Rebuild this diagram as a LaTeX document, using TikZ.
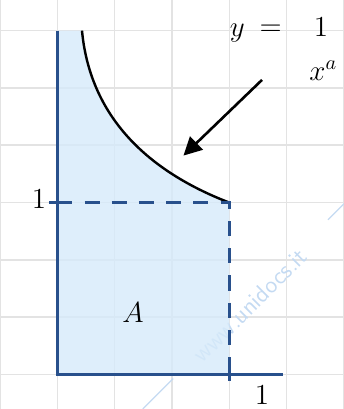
\documentclass[tikz,border=0pt]{standalone}
\usepackage{tikz}
\usetikzlibrary{arrows.meta,positioning,calc}
\definecolor{axisblue}{HTML}{28508C}
\definecolor{areablue}{HTML}{D6EAFA}
\definecolor{markblue}{HTML}{C4DAF2}
\begin{document}
\begin{tikzpicture}[every node/.style={font=\Large},
 axis/.style={draw=axisblue,line width=1.5pt},
 guide/.style={draw=axisblue,line width=1.5pt,dash pattern=on 7.5pt off 6pt},
 gridline/.style={draw=black!11,line width=0.8pt},
 curveline/.style={draw=black,line width=1.2pt}]
\useasboundingbox (0,0) rectangle (6,7.134);
% squared paper
\foreach \gx in {0,...,6}{\draw[gridline] (\gx,0) -- (\gx,7.134);}
\foreach \gy in {0.6,1.6,...,6.6}{\draw[gridline] (0,\gy) -- (6,\gy);}
% watermark
\draw[markblue,line width=0.6pt] (2.49,0) -- (3.02,0.53) (5.72,3.30) -- (6,3.58);
\node[rotate=45,text=markblue,font=\sffamily\large] (mark) at (4.36,1.81) {www.unidocs.it};
% points of the graph
\coordinate (O) at (1,0.6); \coordinate (X1) at (4,0.6); \coordinate (XE) at (4.94,0.6);
\coordinate (Y1) at (1,3.6); \coordinate (YE) at (1,6.6); \coordinate (P) at (4,3.6);
\coordinate (C0) at (1.43,6.6);
% area
\fill[areablue,opacity=0.8] (O) -- (X1) -- (P) .. controls (2.7,4.1) and (1.58,5.0) .. (C0) -- (YE) -- cycle;
\draw[curveline] (P) .. controls (2.7,4.1) and (1.58,5.0) .. (C0);
% axes and guides
\draw[axis] (YE) -- (O) -- (XE);
\draw[guide] (Y1) -- (P) -- (X1);
\draw[axis] (Y1) -- ++(-0.15,0) (X1) -- ++(0,-0.12) (X1) -- ++(0,0.08);
% labels
\node (yone) at (0.68,3.66) {$1$};
\node (xone) at (4.57,0.24) {$1$};
\node (area) at (2.32,1.68) {$A$};
\node (eqy) at (4.14,6.55) {$y$};
\node (eqsign) at (4.72,6.6) {$=$};
\node (eqnum) at (5.6,6.66) {$1$};
\node (eqden) at (5.64,5.9) {$x^a$};
\coordinate (tail) at (4.57,5.74); \coordinate (tip) at (3.2,4.42);
\draw[line width=1.3pt,-{Triangle[length=9pt,width=9pt]}] (tail) -- (tip);
\end{tikzpicture}
\end{document}
